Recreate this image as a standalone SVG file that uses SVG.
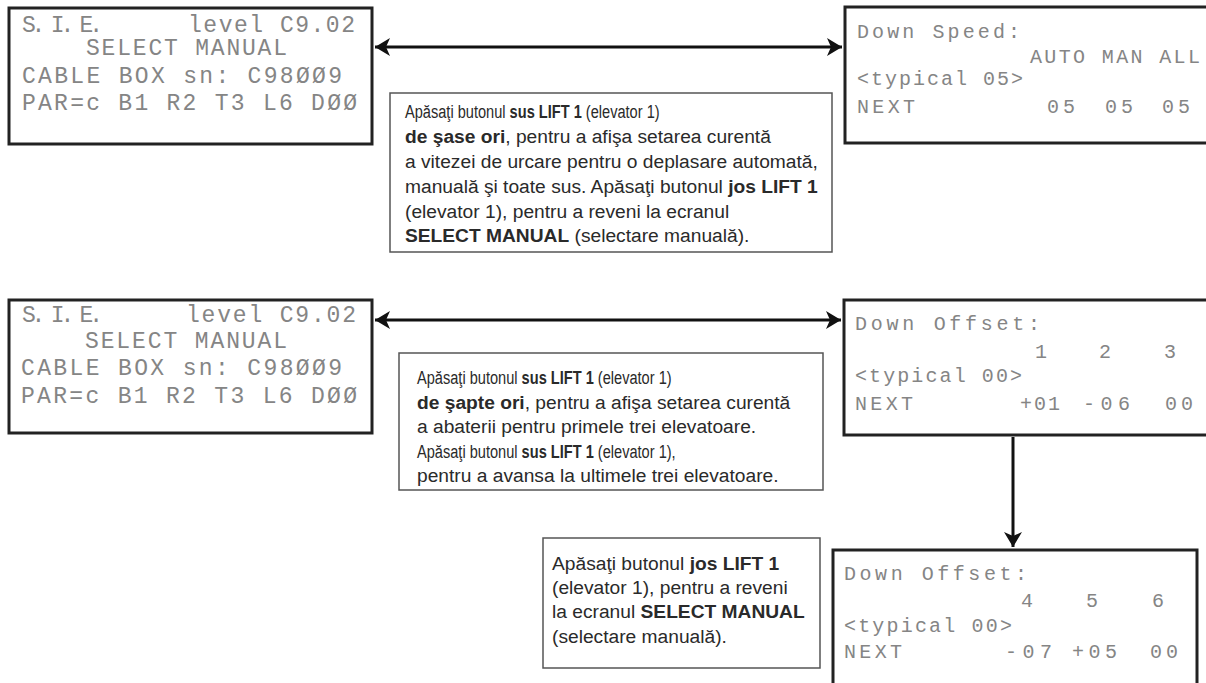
<svg xmlns="http://www.w3.org/2000/svg" width="1206" height="683" viewBox="0 0 1206 683">
<style>
.lcd{fill:#fff;stroke:#222;stroke-width:3}
.lt{font-family:"Liberation Mono","DejaVu Sans Mono",monospace;font-size:23px;fill:#858585}
.lt2{font-family:"Liberation Mono","DejaVu Sans Mono",monospace;font-size:20px;fill:#858585}
.note{fill:#fff;stroke:#555;stroke-width:1.5}
.nt{font-family:"Liberation Sans",Arial,sans-serif;font-size:19.2px;fill:#2a2a2a}
.b{font-weight:bold}
.con{stroke:#111;stroke-width:3;fill:none}
</style>
<defs>
<marker id="ah" viewBox="-16 -10 18 20" refX="0" refY="0" markerWidth="18" markerHeight="20" markerUnits="userSpaceOnUse" orient="auto-start-reverse">
<path d="M-15,-9 L0,0 L-15,9 L-11,0 Z" fill="#111"/>
</marker>
</defs>
<rect width="1206" height="683" fill="#fff"/>

<g id="lcd-select-1">
<rect class="lcd" x="9" y="8" width="363" height="136"/>
<text class="lt" x="22" y="32" textLength="81" lengthAdjust="spacing">S. I. E.</text>
<text class="lt" x="188" y="32" textLength="167" lengthAdjust="spacing">level C9.02</text>
<text class="lt" x="86" y="55" textLength="201" lengthAdjust="spacing">SELECT MANUAL</text>
<text class="lt" x="22" y="83" textLength="320" lengthAdjust="spacing">CABLE BOX sn: C98ØØ9</text>
<text class="lt" x="22" y="110" textLength="335" lengthAdjust="spacing">PAR=c B1 R2 T3 L6 DØØ</text>
</g>

<g id="lcd-down-speed">
<rect class="lcd" x="845" y="7" width="370" height="136"/>
<text class="lt2" x="857" y="38" textLength="163" lengthAdjust="spacing">Down Speed:</text>
<text class="lt2" x="1030" y="63" textLength="170" lengthAdjust="spacing">AUTO MAN ALL</text>
<text class="lt2" x="857" y="85" textLength="166" lengthAdjust="spacing">&lt;typical 05&gt;</text>
<text class="lt2" x="857" y="113" textLength="58" lengthAdjust="spacing">NEXT</text>
<text class="lt2" x="1047" y="113" textLength="28" lengthAdjust="spacing">05</text>
<text class="lt2" x="1105" y="113" textLength="28" lengthAdjust="spacing">05</text>
<text class="lt2" x="1162" y="113" textLength="28" lengthAdjust="spacing">05</text>
</g>

<g id="note-1">
<rect class="note" x="390" y="93" width="442" height="159"/>
<text class="nt" transform="translate(405,118) scale(0.76,1)">Apăsaţi butonul <tspan class="b">sus LIFT 1</tspan> (elevator 1)</text>
<text class="nt" x="405" y="143"><tspan class="b">de şase ori</tspan>, pentru a afişa setarea curentă</text>
<text class="nt" x="405" y="168">a vitezei de urcare pentru o deplasare automată,</text>
<text class="nt" x="405" y="193">manuală şi toate sus. Apăsaţi butonul <tspan class="b">jos LIFT 1</tspan></text>
<text class="nt" x="405" y="218">(elevator 1), pentru a reveni la ecranul</text>
<text class="nt" x="405" y="242"><tspan class="b">SELECT MANUAL</tspan> (selectare manuală).</text>
</g>

<g id="lcd-select-2">
<rect class="lcd" x="9" y="300" width="363" height="133"/>
<text class="lt" x="22" y="322" textLength="81" lengthAdjust="spacing">S. I. E.</text>
<text class="lt" x="186" y="322" textLength="170" lengthAdjust="spacing">level C9.02</text>
<text class="lt" x="85" y="348" textLength="202" lengthAdjust="spacing">SELECT MANUAL</text>
<text class="lt" x="21" y="375" textLength="321" lengthAdjust="spacing">CABLE BOX sn: C98ØØ9</text>
<text class="lt" x="21" y="403" textLength="336" lengthAdjust="spacing">PAR=c B1 R2 T3 L6 DØØ</text>
</g>

<g id="lcd-down-offset-1">
<rect class="lcd" x="844" y="300" width="370" height="135"/>
<text class="lt2" x="855" y="330" textLength="185" lengthAdjust="spacing">Down Offset:</text>
<text class="lt2" x="1035" y="358">1</text>
<text class="lt2" x="1099" y="358">2</text>
<text class="lt2" x="1164" y="358">3</text>
<text class="lt2" x="855" y="382" textLength="167" lengthAdjust="spacing">&lt;typical 00&gt;</text>
<text class="lt2" x="855" y="410" textLength="58" lengthAdjust="spacing">NEXT</text>
<text class="lt2" x="1020" y="410" textLength="40" lengthAdjust="spacing">+01</text>
<text class="lt2" x="1083" y="410" textLength="47" lengthAdjust="spacing">-06</text>
<text class="lt2" x="1165" y="410" textLength="28" lengthAdjust="spacing">00</text>
</g>

<g id="note-2">
<rect class="note" x="399" y="353" width="424" height="137"/>
<text class="nt" transform="translate(417,384) scale(0.76,1)">Apăsaţi butonul <tspan class="b">sus LIFT 1</tspan> (elevator 1)</text>
<text class="nt" x="417" y="409"><tspan class="b">de şapte ori</tspan>, pentru a afişa setarea curentă</text>
<text class="nt" x="417" y="433">a abaterii pentru primele trei elevatoare.</text>
<text class="nt" transform="translate(417,458) scale(0.76,1)">Apăsaţi butonul <tspan class="b">sus LIFT 1</tspan> (elevator 1),</text>
<text class="nt" x="417" y="482">pentru a avansa la ultimele trei elevatoare.</text>
</g>

<g id="note-3">
<rect class="note" x="543" y="538" width="277" height="130"/>
<text class="nt" x="552" y="570">Apăsaţi butonul <tspan class="b">jos LIFT 1</tspan></text>
<text class="nt" x="552" y="594">(elevator 1), pentru a reveni</text>
<text class="nt" x="552" y="618">la ecranul <tspan class="b">SELECT MANUAL</tspan></text>
<text class="nt" x="552" y="643">(selectare manuală).</text>
</g>

<g id="lcd-down-offset-2">
<rect class="lcd" x="833" y="550" width="364" height="140"/>
<text class="lt2" x="844" y="580" textLength="183" lengthAdjust="spacing">Down Offset:</text>
<text class="lt2" x="1021" y="607">4</text>
<text class="lt2" x="1086" y="607">5</text>
<text class="lt2" x="1152" y="607">6</text>
<text class="lt2" x="844" y="632" textLength="168" lengthAdjust="spacing">&lt;typical 00&gt;</text>
<text class="lt2" x="844" y="658" textLength="58" lengthAdjust="spacing">NEXT</text>
<text class="lt2" x="1005" y="658" textLength="47" lengthAdjust="spacing">-07</text>
<text class="lt2" x="1072" y="658" textLength="45" lengthAdjust="spacing">+05</text>
<text class="lt2" x="1150" y="658" textLength="28" lengthAdjust="spacing">00</text>
</g>

<g id="connectors">
<line class="con" x1="375" y1="47" x2="842" y2="47" marker-start="url(#ah)" marker-end="url(#ah)"/>
<line class="con" x1="375" y1="320" x2="841" y2="320" marker-start="url(#ah)" marker-end="url(#ah)"/>
<line class="con" x1="1013" y1="437" x2="1013" y2="547" marker-end="url(#ah)"/>
</g>
</svg>
